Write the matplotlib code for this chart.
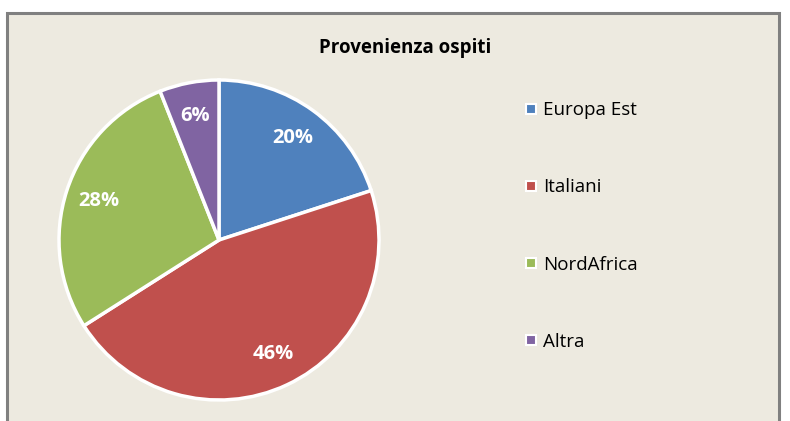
import matplotlib.pyplot as plt
from matplotlib.patches import Rectangle
from matplotlib.lines import Line2D

# Provenienza ospiti - pie chart
categories = ['Europa Est', 'Italiani', 'NordAfrica', 'Altra']
values = [20, 46, 28, 6]
colors = ['#4F81BD', '#C0504D', '#9BBB59', '#8064A2']

plt.rcParams['font.family'] = ['Open Sans', 'DejaVu Sans']

fig = plt.figure(figsize=(7.9, 4.21), dpi=100)
fig.patch.set_facecolor('white')

# chart area frame (cut off at the bottom like the original)
frame = Rectangle((7 / 790, -0.05), 772 / 790, (421 - 13) / 421 + 0.05,
                  transform=fig.transFigure, facecolor='#EDEAE0',
                  edgecolor='#808080', linewidth=2.2, zorder=-1)
fig.patches.append(frame)

ax = fig.add_axes([59 / 790, 21 / 421, 320 / 790, 320 / 421])
ax.set_facecolor('none')
wedges, texts, autotexts = ax.pie(values, colors=colors, startangle=90, counterclock=False,
                                  autopct='%1.0f%%', pctdistance=0.79, radius=1.0,
                                  wedgeprops=dict(edgecolor='white', linewidth=2.5))
for t in autotexts:
    t.set_color('white')
    t.set_fontweight('bold')
    t.set_fontsize(14.5)
ax.set_xlim(-1.0, 1.0)
ax.set_ylim(-1.0, 1.0)
ax.set_aspect('equal')
ax.axis('off')

fig.text(405 / 790, 1 - 48 / 421, 'Provenienza ospiti', ha='center', va='center',
         fontsize=13.5, fontweight='bold')

handles = [Line2D([], [], linestyle='none', marker='s', markersize=7,
                  markerfacecolor=c, markeredgecolor='white', markeredgewidth=1.5)
           for c in colors]
fig.legend(handles, categories, loc='upper left', bbox_to_anchor=(514 / 790, 1 - 92 / 421),
           frameon=False, fontsize=13.5, labelspacing=3.15, handlelength=0.8,
           handletextpad=0.25, borderpad=0)

plt.savefig('out.png', dpi=100)
